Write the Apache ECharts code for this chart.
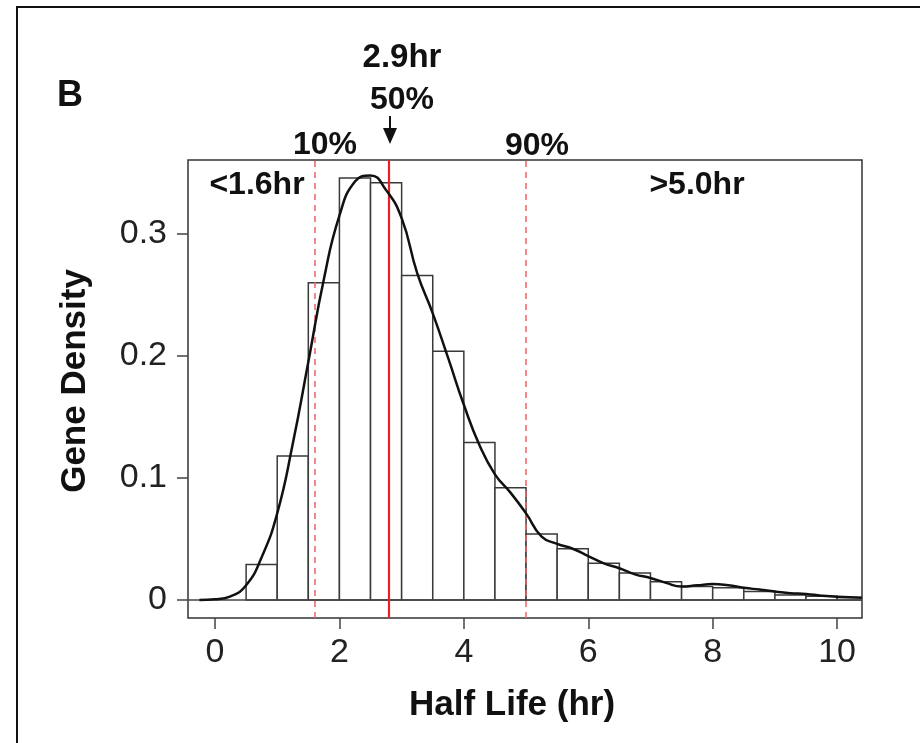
<!DOCTYPE html>
<html lang="en">

<head>
  <meta charset="UTF-8">
  <title>Half Life histogram</title>
  <script src="https://cdn.jsdelivr.net/npm/echarts@6/dist/echarts.min.js"></script>
  <style>
    html, body {
      margin: 0;
      padding: 0;
      background: #fff;
    }

    #chart {
      width: 920px;
      height: 743px;
    }
  </style>
</head>

<body>
  <div id="chart"></div>

  <script>
    // histogram bins (hr), width 0.5
    var binStart = [0.5, 1.0, 1.5, 2.0, 2.5, 3.0, 3.5, 4.0, 4.5, 5.0,
      5.5, 6.0, 6.5, 7.0, 7.5, 8.0, 8.5, 9.0, 9.5, 10.0];
    var binWidth = 0.5;
    var binDensity = [0.029, 0.118, 0.260, 0.346, 0.342, 0.266, 0.204, 0.129, 0.092, 0.054,
      0.042, 0.030, 0.022, 0.015, 0.011, 0.010, 0.007, 0.004, 0.003, 0.002];

    // smoothed density curve
    var curveX = [-0.25, 0, 0.25, 0.5, 0.75, 1.0, 1.25, 1.5, 1.75, 2.0, 2.25, 2.5, 2.75, 3.0,
      3.25, 3.5, 3.75, 4.0, 4.25, 4.5, 4.75, 5.0, 5.25, 5.5, 5.75, 6.0, 6.25, 6.5, 6.75, 7.0,
      7.25, 7.5, 7.75, 8.0, 8.25, 8.5, 8.75, 9.0, 9.25, 9.5, 9.75, 10.0, 10.4];
    var curveY = [0.0, 0.0005, 0.003, 0.012, 0.035, 0.071, 0.128, 0.195, 0.263, 0.315, 0.343,
      0.348, 0.336, 0.313, 0.268, 0.235, 0.198, 0.160, 0.127, 0.103, 0.088, 0.071, 0.052,
      0.046, 0.042, 0.036, 0.030, 0.026, 0.021, 0.018, 0.014, 0.011, 0.012, 0.013, 0.012,
      0.010, 0.0085, 0.007, 0.0055, 0.0049, 0.0035, 0.0026, 0.0019];

    // quantile lines: 10%, 50%, 90%
    var q10 = 1.6;
    var q50 = 2.8;
    var q90 = 5.0;

    var xTicks = [0, 2, 4, 6, 8, 10];
    var yTicks = [0, 0.1, 0.2, 0.3];

    var xMin = -0.434, xMax = 10.40;
    var yMin = -0.0148, yMax = 0.3607;

    var font = 'Liberation Sans, Arial, sans-serif';

    var bars = [];
    for (var i = 0; i < binStart.length; i++) {
      bars.push([binStart[i], binStart[i] + binWidth, binDensity[i]]);
    }
    var curve = [];
    for (var j = 0; j < curveX.length; j++) {
      curve.push([curveX[j], curveY[j]]);
    }

    var myChart = echarts.init(document.getElementById('chart'));

    var option = {
      animation: false,
      grid: {
        left: 188,
        right: 58,
        top: 160,
        bottom: 125,
        show: true,
        borderColor: '#333',
        borderWidth: 1.5
      },
      xAxis: {
        type: 'value',
        min: xMin,
        max: xMax,
        name: 'Half Life (hr)',
        nameLocation: 'middle',
        nameGap: 70,
        nameTextStyle: {
          fontFamily: font, fontSize: 35, fontWeight: 'bold', color: '#111',
          padding: [0, 26, 0, 0]
        },
        axisLine: { show: false, onZero: false },
        splitLine: { show: false },
        axisTick: {
          show: true, length: 11, inside: false, customValues: xTicks,
          lineStyle: { color: '#444', width: 1.5 }
        },
        axisLabel: {
          customValues: xTicks, margin: 18,
          fontFamily: font, fontSize: 34, color: '#222'
        }
      },
      yAxis: {
        type: 'value',
        min: yMin,
        max: yMax,
        name: 'Gene Density',
        nameLocation: 'middle',
        nameGap: 95,
        nameTextStyle: {
          fontFamily: font, fontSize: 35, fontWeight: 'bold', color: '#111',
          padding: [0, 0, 0, 16]
        },
        axisLine: { show: false, onZero: false },
        splitLine: { show: false },
        axisTick: {
          show: true, length: 11, inside: false, customValues: yTicks,
          lineStyle: { color: '#444', width: 1.5 }
        },
        axisLabel: {
          customValues: yTicks, margin: 21,
          fontFamily: font, fontSize: 34, color: '#222',
          formatter: function (v) { return v === 0 ? '0' : v.toFixed(1); }
        }
      },
      series: [
        {
          name: 'hist',
          type: 'custom',
          clip: true,
          data: bars,
          renderItem: function (params, api) {
            var p0 = api.coord([api.value(0), api.value(2)]);
            var p1 = api.coord([api.value(1), 0]);
            return {
              type: 'rect',
              shape: { x: p0[0], y: p0[1], width: p1[0] - p0[0], height: p1[1] - p0[1] },
              style: { fill: '#fff', stroke: '#3a3a3a', lineWidth: 1.5 }
            };
          },
          markLine: {
            silent: true,
            symbol: 'none',
            label: { show: false },
            data: [
              [{ coord: [xMin, 0], lineStyle: { color: '#444', width: 1.5, type: 'solid' } }, { coord: [xMax, 0] }],
              [{ coord: [q10, yMin], lineStyle: { color: '#f0606a', width: 1.5, type: [6, 5] } }, { coord: [q10, yMax] }],
              [{ coord: [q90, yMin], lineStyle: { color: '#f0606a', width: 1.5, type: [6, 5] } }, { coord: [q90, yMax] }],
              [{ coord: [q50, yMin], lineStyle: { color: '#e8202a', width: 2.2, type: 'solid' } }, { coord: [q50, yMax] }]
            ]
          }
        },
        {
          name: 'density',
          type: 'line',
          data: curve,
          smooth: 0.5,
          showSymbol: false,
          clip: true,
          lineStyle: { color: '#111', width: 2.5 },
          z: 5
        }
      ],
      graphic: [
        {
          type: 'polyline',
          shape: { points: [[17, 743], [17, 7], [920, 7]] },
          style: { stroke: '#111', lineWidth: 2, fill: null }
        },
        {
          type: 'text', x: 70, y: 96,
          style: { text: 'B', font: 'bold 36px ' + font, fill: '#111', textAlign: 'center', textVerticalAlign: 'middle' }
        },
        {
          type: 'text', x: 402, y: 58,
          style: { text: '2.9hr', font: 'bold 33px ' + font, fill: '#111', textAlign: 'center', textVerticalAlign: 'middle' }
        },
        {
          type: 'text', x: 402, y: 100,
          style: { text: '50%', font: 'bold 32px ' + font, fill: '#111', textAlign: 'center', textVerticalAlign: 'middle' }
        },
        {
          type: 'line',
          shape: { x1: 390, y1: 116, x2: 390, y2: 130 },
          style: { stroke: '#111', lineWidth: 2 }
        },
        {
          type: 'polygon',
          shape: { points: [[383, 128], [397, 128], [390, 144]] },
          style: { fill: '#111' }
        },
        {
          type: 'text', x: 325, y: 145,
          style: { text: '10%', font: 'bold 32px ' + font, fill: '#111', textAlign: 'center', textVerticalAlign: 'middle' }
        },
        {
          type: 'text', x: 537, y: 146,
          style: { text: '90%', font: 'bold 32px ' + font, fill: '#111', textAlign: 'center', textVerticalAlign: 'middle' }
        },
        {
          type: 'text', x: 257, y: 185,
          style: { text: '<1.6hr', font: 'bold 32px ' + font, fill: '#111', textAlign: 'center', textVerticalAlign: 'middle' }
        },
        {
          type: 'text', x: 697, y: 185,
          style: { text: '>5.0hr', font: 'bold 32px ' + font, fill: '#111', textAlign: 'center', textVerticalAlign: 'middle' }
        }
      ]
    };

    myChart.setOption(option);
  </script>
</body>

</html>
